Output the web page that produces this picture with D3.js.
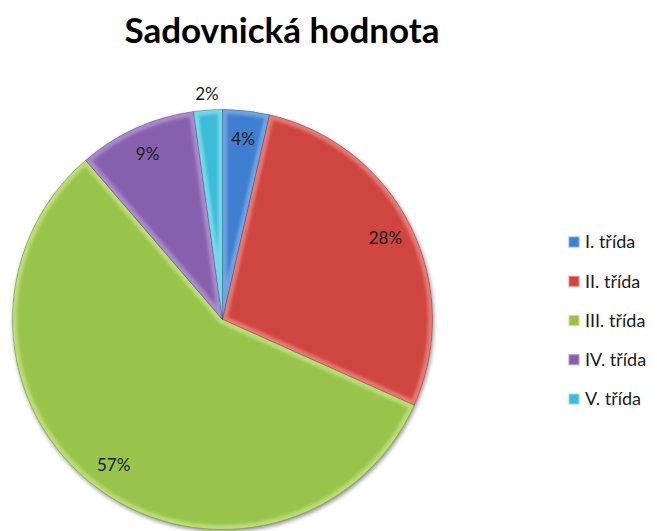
<!DOCTYPE html>
<html>
<head>
<meta charset="utf-8">
<script src="https://cdn.jsdelivr.net/npm/d3@7"></script>
<style>
  body { margin: 0; background: #fff; }
  svg { display: block; }
</style>
</head>
<body>
<div id="chart"></div>
<script>
const categories = ["I. třída", "II. třída", "III. třída", "IV. třída", "V. třída"];
const values = [3.6, 28.1, 57.0, 9.1, 2.2];
const labels = ["4%", "28%", "57%", "9%", "2%"];
const colors = ["#3f7fcf", "#cf4540", "#98c44b", "#8761ad", "#3cbcd8"];
const lightColors = ["#7fb0ea", "#ee8a85", "#c6e684", "#b597d6", "#8ee0f2"];

const width = 657, height = 531;
const cx = 222.5, cy = 319.5, r = 210;
const font = "Lato, 'Open Sans', sans-serif";

const svg = d3.select("#chart").append("svg")
    .attr("width", width)
    .attr("height", height);

const defs = svg.append("defs");
const shadow = defs.append("filter").attr("id", "shadow")
    .attr("x", "-10%").attr("y", "-10%").attr("width", "120%").attr("height", "120%");
shadow.append("feGaussianBlur").attr("in", "SourceAlpha").attr("stdDeviation", 2);
shadow.append("feOffset").attr("dx", 1).attr("dy", 2).attr("result", "off");
shadow.append("feComponentTransfer").append("feFuncA").attr("type", "linear").attr("slope", 0.45);
const merge = shadow.append("feMerge");
merge.append("feMergeNode");
merge.append("feMergeNode").attr("in", "SourceGraphic");

defs.append("filter").attr("id", "soft")
    .append("feGaussianBlur").attr("stdDeviation", 1.6);

svg.append("text")
    .attr("x", 282)
    .attr("y", 43)
    .attr("text-anchor", "middle")
    .style("font-family", font)
    .style("font-weight", "bold")
    .style("font-size", "35px")
    .attr("fill", "#000")
    .text("Sadovnická hodnota");

const pie = d3.pie().sort(null).value(d => d)(values);
const arc = d3.arc().innerRadius(0).outerRadius(r);

const g = svg.append("g").attr("transform", `translate(${cx},${cy})`);

const slices = g.append("g").attr("filter", "url(#shadow)");

pie.forEach((p, i) => {
  defs.append("clipPath").attr("id", "clip" + i)
      .append("path").attr("d", arc(p));
});

const sg = slices.selectAll("g.slice")
    .data(pie)
    .join("g")
    .attr("class", "slice");

sg.append("path")
    .attr("d", arc)
    .attr("fill", (d, i) => colors[i]);

// bevel: light rim just inside each slice
sg.append("g")
    .attr("clip-path", (d, i) => `url(#clip${i})`)
    .append("path")
    .attr("d", arc)
    .attr("fill", "none")
    .attr("stroke", (d, i) => lightColors[i])
    .attr("stroke-width", 9)
    .attr("stroke-opacity", 0.75)
    .attr("filter", "url(#soft)");

sg.append("path")
    .attr("d", arc)
    .attr("fill", "none")
    .attr("stroke", "rgba(0,0,0,0.25)")
    .attr("stroke-width", 0.8);

const labelArc = d3.arc().innerRadius(182).outerRadius(182);
const outerArc = d3.arc().innerRadius(226).outerRadius(226);

g.selectAll("text.lbl")
    .data(pie)
    .join("text")
    .attr("class", "lbl")
    .attr("transform", (d, i) => {
      const c = (i === 4 ? outerArc : labelArc).centroid(d);
      return `translate(${c[0]},${c[1]})`;
    })
    .attr("text-anchor", "middle")
    .attr("dy", "0.35em")
    .style("font-family", font)
    .style("font-size", "17px")
    .attr("fill", "#1a1a1a")
    .text((d, i) => labels[i]);

const legendY = d3.scalePoint().domain(categories).range([242, 399]);

const lg = svg.append("g").selectAll("g")
    .data(categories)
    .join("g")
    .attr("transform", d => `translate(569,${legendY(d)})`);

lg.append("rect")
    .attr("x", 0).attr("y", -5)
    .attr("width", 10).attr("height", 10)
    .attr("fill", (d, i) => colors[i])
    .attr("stroke", (d, i) => lightColors[i])
    .attr("stroke-width", 1);

lg.append("text")
    .attr("x", 16)
    .attr("dy", "0.35em")
    .style("font-family", font)
    .style("font-size", "18px")
    .attr("fill", "#1a1a1a")
    .text(d => d);
</script>
</body>
</html>
